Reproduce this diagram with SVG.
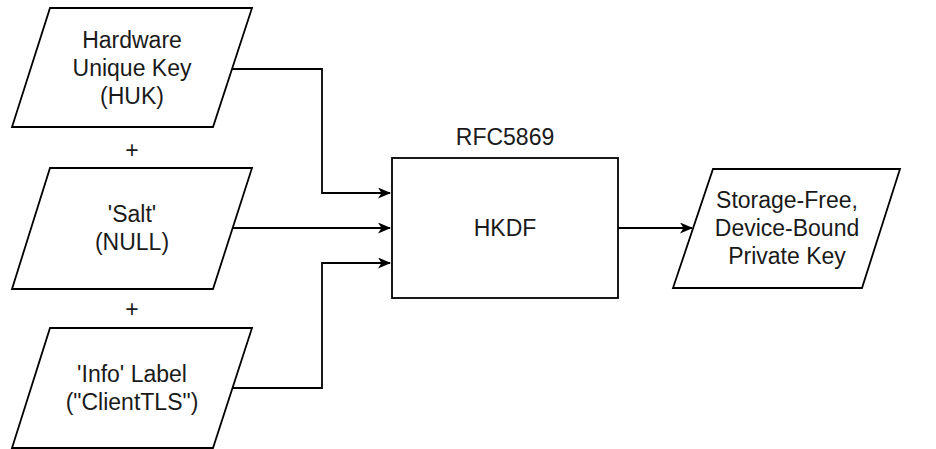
<svg xmlns="http://www.w3.org/2000/svg" width="936" height="449" viewBox="0 0 936 449">
<style>
.shape{fill:#fff;stroke:#000;stroke-width:1.8}
.edge{fill:none;stroke:#000;stroke-width:1.8}
text{font-family:"Liberation Sans",Arial,Helvetica,sans-serif;font-size:23px;fill:#1a1a1a;text-anchor:middle}
</style>
<defs>
<marker id="arr" viewBox="0 0 13 11" refX="12" refY="5.5" markerWidth="13" markerHeight="11" markerUnits="userSpaceOnUse" orient="auto">
<path d="M0,0 L13,5.5 L0,11 L3.5,5.5 Z" fill="#000"/>
</marker>
</defs>
<rect width="936" height="449" fill="#fff"/>
<g id="connectors">
<polyline class="edge" points="232,69 322,69 322,193 390,193" marker-end="url(#arr)"/>
<polyline class="edge" points="232,228 390,228" marker-end="url(#arr)"/>
<polyline class="edge" points="232,388 322,388 322,263 390,263" marker-end="url(#arr)"/>
<polyline class="edge" points="618,228 692,228" marker-end="url(#arr)"/>
</g>
<g id="huk">
<polygon class="shape" points="50,8 252,8 213,127 12,127"/>
<text x="132" y="48">Hardware</text>
<text x="132" y="76">Unique Key</text>
<text x="132" y="104">(HUK)</text>
</g>
<text id="plus1" x="132" y="158">+</text>
<g id="salt">
<polygon class="shape" points="50,168 252,168 213,289 12,289"/>
<text x="132" y="222">'Salt'</text>
<text x="132" y="250">(NULL)</text>
</g>
<text id="plus2" x="132" y="317">+</text>
<g id="info">
<polygon class="shape" points="50,328 252,328 213,448 12,448"/>
<text x="132" y="382">'Info' Label</text>
<text x="132" y="410">("ClientTLS")</text>
</g>
<g id="hkdf">
<rect class="shape" x="392" y="158" width="226" height="140"/>
<text x="505" y="236">HKDF</text>
<text x="505" y="145">RFC5869</text>
</g>
<g id="output">
<polygon class="shape" points="713,169 900,169 862,288 673,288"/>
<text x="787" y="208">Storage-Free,</text>
<text x="787" y="236">Device-Bound</text>
<text x="787" y="264">Private Key</text>
</g>
</svg>
